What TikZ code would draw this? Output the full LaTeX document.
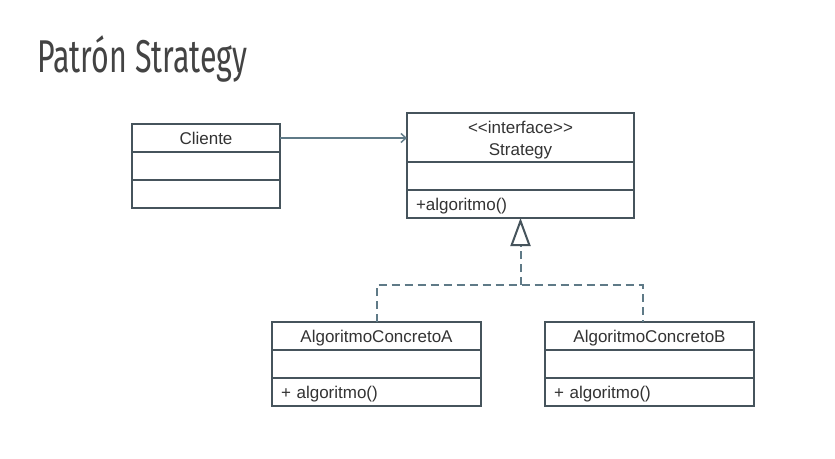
\documentclass[tikz,border=0pt]{standalone}
\usepackage{fontspec}
\setmainfont{Liberation Sans}
\newfontfamily\titlefont{Fira Sans}
\usepackage{graphicx}
\usetikzlibrary{arrows.meta, positioning}

\definecolor{boxline}{HTML}{46545C}
\definecolor{linkline}{HTML}{5F7A87}
\definecolor{txtgray}{HTML}{333333}
\definecolor{titlegray}{HTML}{434343}

\begin{document}
\begin{tikzpicture}[x=1pt,y=-1pt,
		row/.style={draw=boxline, line width=1.8pt, outer sep=0pt, inner sep=0pt, minimum height=28pt, text=txtgray, font=\fontsize{17}{22}\selectfont},
		onerow/.style={row, text height=14pt, text depth=1pt},
		method/.style={onerow, inner xsep=9pt, align=left},
		assoc/.style={draw=linkline, line width=1.4pt, -{Straight Barb[length=5pt, width=9pt]}},
		realize/.style={draw=linkline, line width=2pt, dash pattern=on 8pt off 5pt}]
			\useasboundingbox[fill=white] (0,0) rectangle (835,458);
			%title
			\node[anchor=base west, text=titlegray, inner sep=0pt] (title) at (37,72) {\scalebox{0.66}[1]{\titlefont\fontsize{46}{50}\selectfont Patrón Strategy}};
			%client class
			\node[onerow, anchor=north west, minimum width=148pt] (cli1) at (132,124) {Cliente};
			\node[row, minimum width=148pt, below=0pt of cli1] (cli2) {};
			\node[row, minimum width=148pt, below=0pt of cli2] (cli3) {};
			%strategy interface
			\node[row, anchor=north west, minimum width=227pt, minimum height=49pt, align=center] (str1) at (407,113) {\rule{0pt}{17pt}<\kern0pt<interface>\kern0pt>\\Strategy};
			\node[row, minimum width=227pt, below=0pt of str1] (str2) {};
			\node[method, text width=209pt, below=0pt of str2] (str3) {+algoritmo()};
			%concrete A
			\node[onerow, anchor=north west, minimum width=209pt] (algA1) at (272,322) {AlgoritmoConcretoA};
			\node[row, minimum width=209pt, below=0pt of algA1] (algA2) {};
			\node[method, text width=191pt, below=0pt of algA2] (algA3) {+ algoritmo()};
			%concrete B
			\node[onerow, anchor=north west, minimum width=209pt] (algB1) at (545,322) {AlgoritmoConcretoB};
			\node[row, minimum width=209pt, below=0pt of algB1] (algB2) {};
			\node[method, text width=191pt, below=0pt of algB2] (algB3) {+ algoritmo()};
			%connectors
			\draw[assoc] (cli1.east) -- (cli1.east -| str1.west);
			\coordinate (junc) at (str3.south |- 0,285);
			\draw[realize] (algA1.north) |- (junc) -| ([xshift=-7pt]algB1.north);
			\draw[realize, -{Triangle[open, length=28pt, width=20pt, color=boxline]}] (junc) -- (str3.south);
\end{tikzpicture}
\end{document}
